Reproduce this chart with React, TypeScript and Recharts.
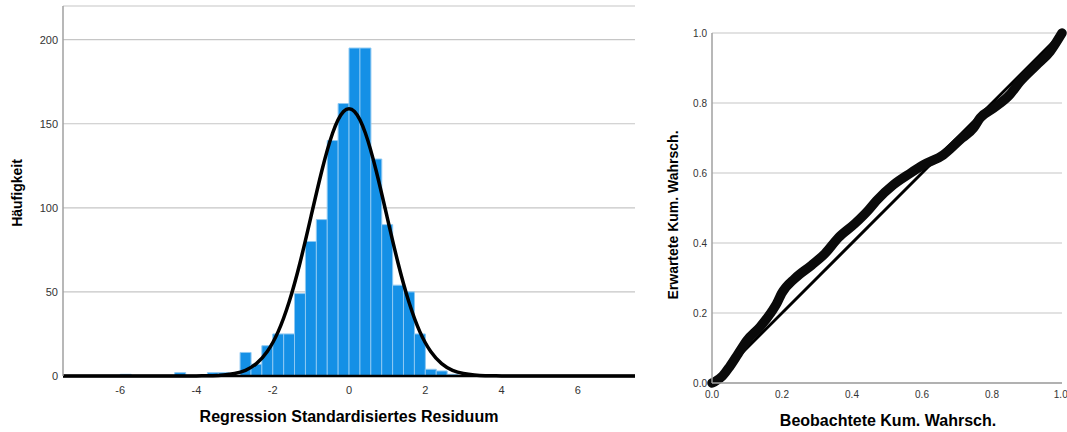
import React from 'react';
import { ComposedChart, LineChart, Bar, Line, XAxis, YAxis, CartesianGrid } from 'recharts';

// Histogram of standardized residuals: bin centres (bin width 2/7)
const binCenters = [
  -7.571, -7.286, -7.0, -6.714, -6.429, -6.143, -5.857, -5.571, -5.286, -5.0,
  -4.714, -4.429, -4.143, -3.857, -3.571, -3.286, -3.0, -2.714, -2.429, -2.143,
  -1.857, -1.571, -1.286, -1.0, -0.714, -0.429, -0.143, 0.143, 0.429, 0.714,
  1.0, 1.286, 1.571, 1.857, 2.143, 2.429, 2.714, 3.0, 3.286, 3.571,
  3.857, 4.143, 4.429, 4.714, 5.0, 5.286, 5.571, 5.857, 6.143, 6.429,
  6.714, 7.0, 7.286, 7.571,
];

// Frequency per bin
const binCounts = [
  0, 0, 0, 0, 0, 0, 1, 0, 0, 0,
  0, 2, 0, 0, 2, 2, 0, 14, 7, 18,
  25, 25, 49, 80, 93, 140, 162, 195, 195, 129,
  90, 54, 50, 25, 4, 3, 1, 0, 0, 0,
  0, 0, 0, 0, 0, 0, 0, 0, 0, 0,
  0, 0, 0, 0,
];

// Overlaid normal curve, read at each bin centre
const normalCurve = [
  0, 0, 0, 0, 0, 0, 0, 0, 0, 0,
  0, 0, 0, 0.1, 0.2, 0.6, 1.5, 3.4, 7.4, 14.6,
  26.4, 44.0, 67.2, 94.5, 121.9, 144.5, 157.3, 157.3, 144.5, 121.9,
  94.5, 67.2, 44.0, 26.4, 14.6, 7.4, 3.4, 1.5, 0.6, 0.2,
  0.1, 0, 0, 0, 0, 0, 0, 0, 0, 0,
  0, 0, 0, 0,
];

const histXTicks = [-6, -4, -2, 0, 2, 4, 6];
const histYTicks = [0, 50, 100, 150, 200];

// P-P plot: observed vs expected cumulative probability
const ppObserved = [
  0, 0.01, 0.03, 0.05, 0.075, 0.1, 0.137, 0.17, 0.185, 0.199,
  0.237, 0.285, 0.323, 0.361, 0.409, 0.447, 0.47, 0.518, 0.566, 0.604,
  0.661, 0.709, 0.747, 0.766, 0.804, 0.85, 0.88, 0.928, 0.966, 0.994, 1.0,
];
const ppExpected = [
  0, 0.005, 0.02, 0.046, 0.084, 0.122, 0.16, 0.203, 0.227, 0.256,
  0.299, 0.337, 0.37, 0.415, 0.456, 0.494, 0.521, 0.566, 0.599, 0.623,
  0.652, 0.695, 0.728, 0.757, 0.785, 0.823, 0.861, 0.909, 0.947, 0.99, 1.0,
];
const ppDiagonal = [0, 1];
const ppTicks = [0, 0.2, 0.4, 0.6, 0.8, 1.0];

const FONT = '"Liberation Sans", Arial, sans-serif';

const histData = binCenters.map((x, i) => ({
  x,
  count: binCounts[i] > 0 ? binCounts[i] : null,
  curve: normalCurve[i],
}));

const ppData = ppObserved.map((obs, i) => ({ obs, exp: ppExpected[i] }));
const diagData = ppDiagonal.map((v) => ({ obs: v, ref: v }));

const axisTitle: React.CSSProperties = {
  position: 'absolute',
  fontFamily: FONT,
  fontWeight: 'bold',
  color: '#000',
  whiteSpace: 'nowrap',
  lineHeight: 1,
};

export default function App() {
  return (
    <div style={{ position: 'absolute', left: 0, top: 0, width: 1067, height: 432, background: '#fff', overflow: 'hidden' }}>
      <div style={{ position: 'absolute', left: 0, top: 0 }}>
        <ComposedChart
          width={650}
          height={432}
          data={histData}
          margin={{ top: 6, right: 15, bottom: 26, left: 8 }}
          barCategoryGap={0}
          barGap={0}
        >
          <CartesianGrid vertical={false} stroke="#c6c6c6" strokeWidth={1.2} />
          <XAxis
            dataKey="x"
            type="number"
            domain={[-7.5, 7.5]}
            ticks={histXTicks}
            allowDataOverflow
            height={30}
            tickLine={false}
            tickSize={0}
            tickMargin={10}
            axisLine={{ stroke: '#000', strokeWidth: 2.5 }}
            tick={{ fill: '#333', fontSize: 11, fontFamily: FONT }}
          />
          <YAxis
            type="number"
            domain={[0, 220]}
            ticks={histYTicks}
            width={55}
            tickLine={false}
            tickSize={0}
            tickMargin={5}
            axisLine={{ stroke: '#a0a0a0', strokeWidth: 1.5 }}
            tick={{ fill: '#333', fontSize: 11, fontFamily: FONT }}
          />
          <Bar dataKey="count" fill="#1490e6" stroke="#8ec9f3" strokeWidth={1} isAnimationActive={false} />
          <Line
            dataKey="curve"
            type="natural"
            stroke="#000"
            strokeWidth={3.5}
            dot={false}
            activeDot={false}
            isAnimationActive={false}
          />
        </ComposedChart>
      </div>
      <div style={{ ...axisTitle, fontSize: 14, left: 17, top: 193, transform: 'translate(-50%, -50%) rotate(-90deg)' }}>
        Häufigkeit
      </div>
      <div style={{ ...axisTitle, fontSize: 16, left: 349, top: 417, transform: 'translate(-50%, -50%)' }}>
        Regression Standardisiertes Residuum
      </div>

      <div style={{ position: 'absolute', left: 660, top: 0 }}>
        <LineChart width={407} height={432} margin={{ top: 33, right: 5, bottom: 19, left: 0 }}>
          <CartesianGrid vertical={false} stroke="#c6c6c6" strokeWidth={1.2} />
          <XAxis
            dataKey="obs"
            type="number"
            domain={[0, 1]}
            ticks={ppTicks}
            height={30}
            tickFormatter={(v: number) => v.toFixed(1)}
            tickLine={false}
            tickSize={0}
            tickMargin={8}
            axisLine={{ stroke: '#a0a0a0', strokeWidth: 1.5 }}
            tick={{ fill: '#333', fontSize: 10, fontFamily: FONT }}
          />
          <YAxis
            type="number"
            domain={[0, 1]}
            ticks={ppTicks}
            width={52}
            tickFormatter={(v: number) => v.toFixed(1)}
            tickLine={false}
            tickSize={0}
            tickMargin={5}
            axisLine={{ stroke: '#a0a0a0', strokeWidth: 1.5 }}
            tick={{ fill: '#333', fontSize: 10, fontFamily: FONT }}
          />
          <Line
            data={diagData}
            dataKey="ref"
            type="linear"
            stroke="#000"
            strokeWidth={3}
            dot={false}
            activeDot={false}
            isAnimationActive={false}
          />
          <Line
            data={ppData}
            dataKey="exp"
            type="monotone"
            stroke="#0a0a0a"
            strokeWidth={9.5}
            strokeLinecap="round"
            strokeLinejoin="round"
            dot={false}
            activeDot={false}
            isAnimationActive={false}
          />
        </LineChart>
      </div>
      <div style={{ ...axisTitle, fontSize: 14, left: 673, top: 215, transform: 'translate(-50%, -50%) rotate(-90deg)' }}>
        Erwartete Kum. Wahrsch.
      </div>
      <div style={{ ...axisTitle, fontSize: 16, left: 888, top: 421, transform: 'translate(-50%, -50%)' }}>
        Beobachtete Kum. Wahrsch.
      </div>
    </div>
  );
}
